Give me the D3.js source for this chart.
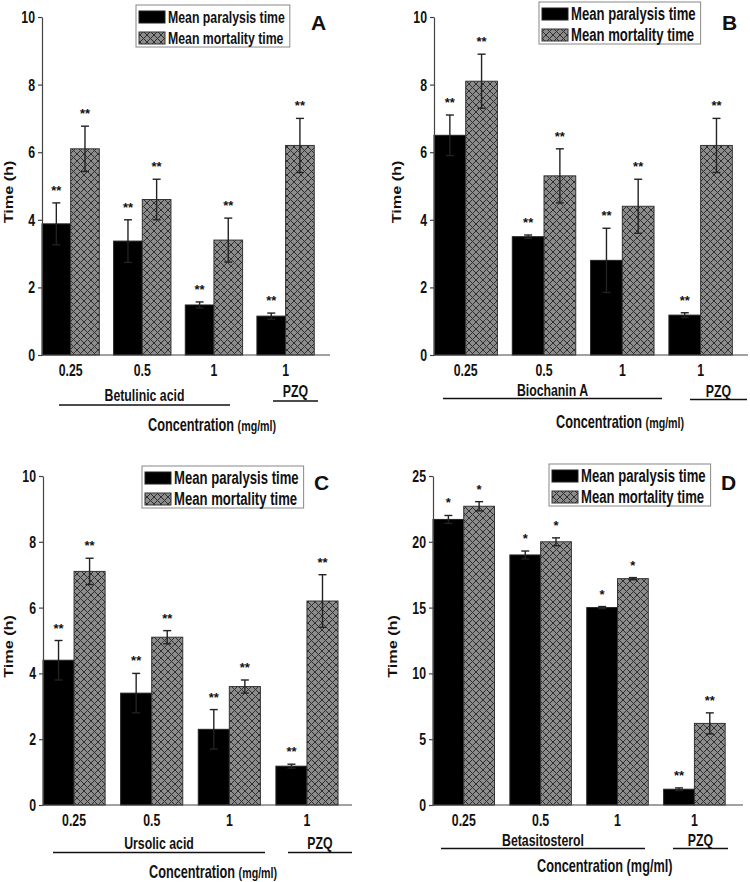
<!DOCTYPE html>
<html>
<head>
<meta charset="utf-8">
<script src="https://cdn.jsdelivr.net/npm/d3@7/dist/d3.min.js"></script>
<style>
  html, body { margin: 0; padding: 0; background: #fff; }
  svg { display: block; }
  text { font-family: 'Liberation Sans', Arial, sans-serif; font-weight: bold; fill: #111; }
</style>
</head>
<body>
<svg id="chart" width="750" height="882"></svg>
<script>
// ---------------- DATA ----------------
const concentrations = ["0.25", "0.5", "1", "1"];
const compounds = ["Betulinic acid", "Biochanin A", "Ursolic acid", "Betasitosterol"];
const referenceDrug = "PZQ";
const seriesNames = ["Mean paralysis time", "Mean mortality time"];
const panelLetters = ["A", "B", "C", "D"];

const paralysisA = [3.88, 3.37, 1.48, 1.15];
const paralysisErrA = [0.62, 0.63, 0.09, 0.09];
const mortalityA = [6.1, 4.6, 3.4, 6.2];
const mortalityErrA = [0.67, 0.6, 0.65, 0.8];

const paralysisB = [6.5, 3.5, 2.8, 1.18];
const paralysisErrB = [0.6, 0.05, 0.95, 0.07];
const mortalityB = [8.1, 5.3, 4.4, 6.2];
const mortalityErrB = [0.8, 0.8, 0.8, 0.8];

const paralysisC = [4.4, 3.4, 2.3, 1.18];
const paralysisErrC = [0.6, 0.6, 0.6, 0.06];
const mortalityC = [7.1, 5.1, 3.6, 6.2];
const mortalityErrC = [0.4, 0.2, 0.2, 0.8];

const paralysisD = [21.7, 19.0, 15.0, 1.2];
const paralysisErrD = [0.3, 0.3, 0.08, 0.1];
const mortalityD = [22.7, 20.0, 17.2, 6.2];
const mortalityErrD = [0.35, 0.3, 0.08, 0.8];

const starsABC = ["**", "**", "**", "**"];
const starsD = ["*", "*", "*", "**"];

const yTicksABC = [0, 2, 4, 6, 8, 10];
const yTicksD = [0, 5, 10, 15, 20, 25];
const yTitle = "Time (h)";
const xTitleMain = "Concentration ";
const xTitleUnit = "(mg/ml)";

// ---------------- LAYOUT ----------------
const panels = [
  { letter: panelLetters[0], compound: compounds[0], par: paralysisA, parE: paralysisErrA, mor: mortalityA, morE: mortalityErrA, stars: starsABC, ticks: yTicksABC, ymax: 10,
    left: 42, right: 330, y0: 355, yTop: 17, pi: 0.2, po: 0.11,
    legend: { x: 136, y: 5, fs: 15 }, letterPos: [311, 30], tickY: 376, grpY: 401, grpLineY: 405, grpLine: [59, 230], pzqY: 397, pzqLineY: 401, pzqLine: [273, 318],
    xTitleX: 148, xTitleY: 431, unitSmall: true, yTitleX: 13 },
  { letter: panelLetters[1], compound: compounds[1], par: paralysisB, parE: paralysisErrB, mor: mortalityB, morE: mortalityErrB, stars: starsABC, ticks: yTicksABC, ymax: 10,
    left: 434, right: 748, y0: 355, yTop: 17, pi: 0.19, po: 0.1,
    legend: { x: 539, y: 2, fs: 16 }, letterPos: [722, 30], tickY: 376, grpY: 396, grpLineY: 398.5, grpLine: [443, 662], pzqY: 397, pzqLineY: 399.5, pzqLine: [690, 747],
    xTitleX: 556, xTitleY: 428, unitSmall: true, yTitleX: 401 },
  { letter: panelLetters[2], compound: compounds[2], par: paralysisC, parE: paralysisErrC, mor: mortalityC, morE: mortalityErrC, stars: starsABC, ticks: yTicksABC, ymax: 10,
    left: 43, right: 352, y0: 805, yTop: 476, pi: 0.2, po: 0.09,
    legend: { x: 142, y: 466, fs: 16 }, letterPos: [314, 490], tickY: 826, grpY: 849, grpLineY: 852.5, grpLine: [53, 265], pzqY: 849, pzqLineY: 852.5, pzqLine: [288, 352],
    xTitleX: 149, xTitleY: 878, unitSmall: true, yTitleX: 13 },
  { letter: panelLetters[3], compound: compounds[3], par: paralysisD, parE: paralysisErrD, mor: mortalityD, morE: mortalityErrD, stars: starsD, ticks: yTicksD, ymax: 25,
    left: 433, right: 743, y0: 805, yTop: 476, pi: 0.2, po: 0.116,
    legend: { x: 549, y: 464, fs: 16 }, letterPos: [721, 490], tickY: 826, grpY: 846, grpLineY: 848.5, grpLine: [441, 645], pzqY: 846, pzqLineY: 848.5, pzqLine: [673, 728],
    xTitleX: 537, xTitleY: 872, unitSmall: false, yTitleX: 397 }
];

const svg = d3.select("#chart");
const defs = svg.append("defs");
const pat = defs.append("pattern").attr("id", "hatch").attr("patternUnits", "userSpaceOnUse")
  .attr("width", 7).attr("height", 7);
pat.append("rect").attr("width", 7).attr("height", 7).attr("fill", "#8c8c8c");
pat.append("path").attr("d", "M-1,-1 L8,8 M-1,6 L1,8 M6,-1 L8,1 M8,-1 L-1,8 M1,-1 L-1,1 M8,6 L6,8")
  .attr("stroke", "#2e2e2e").attr("stroke-width", 1);

const SX = 0.82, SY = 1.15;

function stretchedText(g, x, y, str, size, anchor) {
  const t = g.append("g").attr("transform", `translate(${x},${y}) scale(${SX},${SY})`);
  return t.append("text").attr("text-anchor", anchor || "middle").attr("font-size", size).text(str);
}

panels.forEach(p => {
  const g = svg.append("g");
  const y = d3.scaleLinear().domain([0, p.ymax]).range([p.y0, p.yTop]);
  const x = d3.scaleBand().domain(d3.range(4)).range([p.left, p.right]).paddingInner(p.pi).paddingOuter(p.po).align(0);
  const xs = d3.scaleBand().domain([0, 1]).range([0, x.bandwidth()]);

  const series = [
    { vals: p.par, errs: p.parE, fill: "#000", stroke: "#222" },
    { vals: p.mor, errs: p.morE, fill: "url(#hatch)", stroke: "#333" }
  ];
  series.forEach((s, si) => {
    s.vals.forEach((v, i) => {
      const bx = x(i) + xs(si);
      g.append("rect").attr("x", bx).attr("y", y(v)).attr("width", xs.bandwidth()).attr("height", y(0) - y(v))
        .attr("fill", s.fill).attr("stroke", s.stroke).attr("stroke-width", 1);
    });
  });
  series.forEach((s, si) => {
    s.vals.forEach((v, i) => {
      const cx = x(i) + xs(si) + xs.bandwidth() / 2;
      const hi = y(v + s.errs[i]), lo = y(v - s.errs[i]);
      const eg = g.append("g").attr("stroke", "#222").attr("stroke-width", 1.4).attr("fill", "none");
      eg.append("line").attr("x1", cx).attr("x2", cx).attr("y1", hi).attr("y2", lo);
      eg.append("line").attr("x1", cx - 4).attr("x2", cx + 4).attr("y1", hi).attr("y2", hi);
      eg.append("line").attr("x1", cx - 4).attr("x2", cx + 4).attr("y1", lo).attr("y2", lo);
      g.append("text").attr("x", cx).attr("y", hi - 8).attr("text-anchor", "middle")
        .attr("font-size", 13).text(p.stars[i]);
    });
  });

  // y axis
  const yAxis = d3.axisLeft(y).tickValues(p.ticks).tickSize(4).tickSizeOuter(0).tickFormat(d3.format("d"));
  const ya = g.append("g").attr("transform", `translate(${p.left},0)`).call(yAxis);
  ya.select(".domain").attr("stroke", "#444").attr("stroke-width", 1.2);
  ya.selectAll(".tick line").attr("stroke", "#444").attr("stroke-width", 1.2);
  ya.selectAll(".tick text").remove();
  p.ticks.forEach(t => {
    stretchedText(g, p.left - 7, y(t) + 6, String(t), 15, "end");
  });
  g.append("line").attr("x1", p.left).attr("x2", p.right).attr("y1", p.y0).attr("y2", p.y0)
    .attr("stroke", "#444").attr("stroke-width", 1.2);

  concentrations.forEach((c, i) => {
    stretchedText(g, x(i) + x.bandwidth() / 2, p.tickY, c, 15);
  });
  stretchedText(g, (p.grpLine[0] + p.grpLine[1]) / 2, p.grpY, p.compound, 15);
  g.append("line").attr("x1", p.grpLine[0]).attr("x2", p.grpLine[1]).attr("y1", p.grpLineY).attr("y2", p.grpLineY).attr("stroke", "#111").attr("stroke-width", 1.3);
  stretchedText(g, (p.pzqLine[0] + p.pzqLine[1]) / 2, p.pzqY, referenceDrug, 15);
  g.append("line").attr("x1", p.pzqLine[0]).attr("x2", p.pzqLine[1]).attr("y1", p.pzqLineY).attr("y2", p.pzqLineY).attr("stroke", "#111").attr("stroke-width", 1.3);

  const xt = stretchedText(g, p.xTitleX, p.xTitleY, "", 15.5, "start");
  xt.append("tspan").text(xTitleMain);
  xt.append("tspan").attr("font-size", p.unitSmall ? 13 : 15.5).text(xTitleUnit);

  g.append("text").attr("transform", `translate(${p.yTitleX},${(p.y0 + p.yTop) / 2 + 6}) rotate(-90) scale(1.2,1)`)
    .attr("text-anchor", "middle").attr("font-size", 13.5).text(yTitle);

  g.append("text").attr("x", p.letterPos[0]).attr("y", p.letterPos[1]).attr("font-size", 21).text(p.letter);

  const L = p.legend;
  const lg = g.append("g");
  const box = lg.append("rect").attr("x", L.x).attr("y", L.y).attr("height", 42).attr("fill", "#fff").attr("stroke", "#888").attr("stroke-width", 1);
  const sw = 26;
  lg.append("rect").attr("x", L.x + 3).attr("y", L.y + 6).attr("width", sw).attr("height", 12).attr("fill", "#000").attr("stroke", "#222");
  lg.append("rect").attr("x", L.x + 3).attr("y", L.y + 27).attr("width", sw).attr("height", 12).attr("fill", "url(#hatch)").attr("stroke", "#333");
  const t1 = stretchedText(lg, L.x + sw + 6, L.y + 17.5, seriesNames[0], L.fs, "start");
  const t2 = stretchedText(lg, L.x + sw + 6, L.y + 38.5, seriesNames[1], L.fs, "start");
  const w = SX * Math.max(t1.node().getComputedTextLength(), t2.node().getComputedTextLength());
  box.attr("width", sw + 6 + w + 5);
});
</script>
</body>
</html>
